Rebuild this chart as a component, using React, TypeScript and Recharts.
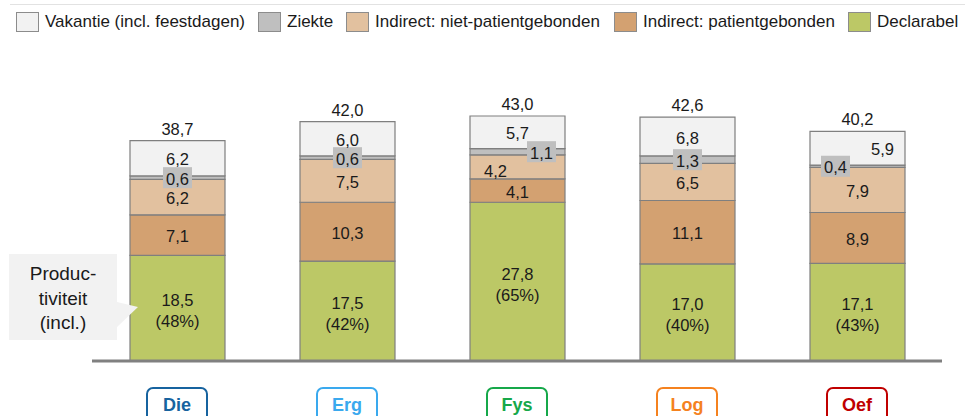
import React from 'react';
import { BarChart, Bar, XAxis, YAxis, LabelList } from 'recharts';

const categories = ['Die', 'Erg', 'Fys', 'Log', 'Oef'];
const declarabel = [18.5, 17.5, 27.8, 17.0, 17.1];
const declarabelPct = [48, 42, 65, 40, 43];
const indirectPatient = [7.1, 10.3, 4.1, 11.1, 8.9];
const indirectNiet = [6.2, 7.5, 4.2, 6.5, 7.9];
const ziekte = [0.6, 0.6, 1.1, 1.3, 0.4];
const vakantie = [6.2, 6.0, 5.7, 6.8, 5.9];
const totals = [38.7, 42.0, 43.0, 42.6, 40.2];

const categoryColors = ['#17639f', '#3aa9ee', '#16a84a', '#f5821f', '#c00000'];

const series = [
  { key: 'vakantie', name: 'Vakantie (incl. feestdagen)', color: '#f2f2f2' },
  { key: 'ziekte', name: 'Ziekte', color: '#bfbfbf' },
  { key: 'indirectNiet', name: 'Indirect: niet-patientgebonden', color: '#e2c19f' },
  { key: 'indirectPatient', name: 'Indirect: patientgebonden', color: '#d3a171' },
  { key: 'declarabel', name: 'Declarabel', color: '#bcc866' },
];

// legend item x positions, matched to the original slide
const legendX = [16, 258, 346, 614, 848];

// a few labels are nudged sideways in the original so they don't collide
const ziekteDx: Record<string, number> = { Fys: 24, Oef: -22 };
const vakantieDx: Record<string, number> = { Oef: 25 };
const indirectNietDx: Record<string, number> = { Fys: -22 };
const indirectNietDy: Record<string, number> = { Fys: 3 };

const rows = categories.map((name, i) => ({
  name,
  declarabel: declarabel[i],
  indirectPatient: indirectPatient[i],
  indirectNiet: indirectNiet[i],
  ziekte: ziekte[i],
  vakantie: vakantie[i],
}));

const FONT = "'Liberation Sans', Arial, sans-serif";
const fmt = (v: number) => v.toFixed(1).replace('.', ',');

const geom = (p: any) => {
  const vb = p.viewBox || {};
  const x = p.x ?? vb.x;
  let y = p.y ?? vb.y;
  const w = p.width ?? vb.width;
  let h = p.height ?? vb.height;
  if (h < 0) { y = y + h; h = -h; }
  return { x, y, w, h };
};

const segmentLabel = (values: number[], dx: Record<string, number> = {}, dy: Record<string, number> = {}) => (p: any) => {
  const { x, y, w, h } = geom(p);
  const name = p.value;
  const i = categories.indexOf(name);
  return (
    <text x={x + w / 2 + (dx[name] || 0)} y={y + h / 2 + (dy[name] || 0) + 1} textAnchor="middle"
      dominantBaseline="central" fontSize={16.5} fill="#1a1a1a" fontFamily={FONT}>
      {fmt(values[i])}
    </text>
  );
};

const ziekteLabel = (p: any) => {
  const { x, y, w, h } = geom(p);
  const name = p.value;
  const i = categories.indexOf(name);
  const cx = x + w / 2 + (ziekteDx[name] || 0);
  const cy = y + h / 2;
  return (
    <g>
      <rect x={cx - 14.5} y={cy - 10.5} width={29} height={21} fill="#bfbfbf" />
      <text x={cx} y={cy + 1} textAnchor="middle" dominantBaseline="central" fontSize={16.5} fill="#1a1a1a" fontFamily={FONT}>
        {fmt(ziekte[i])}
      </text>
    </g>
  );
};

const vakantieLabel = (p: any) => {
  const { x, y, w, h } = geom(p);
  const name = p.value;
  const i = categories.indexOf(name);
  return (
    <g fontFamily={FONT} fontSize={16.5} fill="#1a1a1a">
      <text x={x + w / 2 + (vakantieDx[name] || 0)} y={y + h / 2 + 1} textAnchor="middle" dominantBaseline="central">
        {fmt(vakantie[i])}
      </text>
      <text x={x + w / 2} y={y - 12} textAnchor="middle" dominantBaseline="central">
        {fmt(totals[i])}
      </text>
    </g>
  );
};

const declarabelLabel = (p: any) => {
  const { x, y, w, h } = geom(p);
  const name = p.value;
  const i = categories.indexOf(name);
  const cx = x + w / 2;
  const cy = y + h / 2;
  return (
    <g fontFamily={FONT} fontSize={16.5} fill="#1a1a1a">
      <text x={cx} y={cy - 8} textAnchor="middle" dominantBaseline="central">{fmt(declarabel[i])}</text>
      <text x={cx} y={cy + 13} textAnchor="middle" dominantBaseline="central">({declarabelPct[i]}%)</text>
    </g>
  );
};

const CategoryTick = (props: any) => {
  const { x, y, payload } = props;
  const i = categories.indexOf(payload.value);
  const color = categoryColors[i];
  return (
    <g>
      <rect x={x - 30} y={y + 27} width={60} height={36} rx={6} fill="#fff" stroke={color} strokeWidth={2} />
      <text x={x} y={y + 44} textAnchor="middle" dominantBaseline="central" fill={color}
        fontWeight="bold" fontSize={18} fontFamily={FONT}>
        {payload.value}
      </text>
    </g>
  );
};

const Legend = () => (
  <div style={{ position: 'absolute', left: 0, top: 0, width: 965, height: 40 }}>
    {series.map((s, i) => (
      <div key={s.key} style={{ position: 'absolute', left: legendX[i], top: 12, display: 'flex', alignItems: 'center',
        fontFamily: FONT, fontSize: 17, color: '#1a1a1a', whiteSpace: 'nowrap' }}>
        <span style={{ display: 'inline-block', width: 23, height: 20, background: s.color,
          border: '1px solid #8c8c8c', boxSizing: 'border-box', marginRight: 6 }} />
        <span>{s.name}</span>
      </div>
    ))}
  </div>
);

const Callout = () => (
  <svg width={965} height={416} style={{ position: 'absolute', left: 0, top: 0, pointerEvents: 'none' }}>
    <path d="M9,254 H117 V302 L138,307 L117,327 V340 H9 Z" fill="#f2f2f2" />
    <g fontFamily={FONT} fontSize={19} fill="#1a1a1a" textAnchor="middle">
      <text x={63} y={273} dominantBaseline="central">Produc-</text>
      <text x={63} y={298} dominantBaseline="central">tiviteit</text>
      <text x={63} y={322} dominantBaseline="central">(incl.)</text>
    </g>
  </svg>
);

export default function App() {
  return (
    <div style={{ position: 'relative', width: 965, height: 416, background: '#fff', overflow: 'hidden' }}>
      <style>{'body{margin:0}'}</style>
      <div style={{ position: 'absolute', left: 10, right: 0, top: 4, borderTop: '1px solid #e2e2e2' }} />
      <Legend />
      <BarChart width={965} height={416} data={rows} margin={{ top: 104, right: 23, left: 92, bottom: 25 }}
        barSize={95}>
        <YAxis hide domain={[0, 45]} />
        <XAxis dataKey="name" height={30} axisLine={{ stroke: '#808080', strokeWidth: 3 }} tickLine={false}
          tickSize={0} tickMargin={0} tick={<CategoryTick />} interval={0} />
        <Bar dataKey="declarabel" stackId="a" fill="#bcc866" stroke="#7f7f7f" strokeWidth={1.2} isAnimationActive={false}>
          <LabelList dataKey="name" content={declarabelLabel} />
        </Bar>
        <Bar dataKey="indirectPatient" stackId="a" fill="#d3a171" stroke="#7f7f7f" strokeWidth={1.2} isAnimationActive={false}>
          <LabelList dataKey="name" content={segmentLabel(indirectPatient)} />
        </Bar>
        <Bar dataKey="indirectNiet" stackId="a" fill="#e2c19f" stroke="#7f7f7f" strokeWidth={1.2} isAnimationActive={false}>
          <LabelList dataKey="name" content={segmentLabel(indirectNiet, indirectNietDx, indirectNietDy)} />
        </Bar>
        <Bar dataKey="ziekte" stackId="a" fill="#bfbfbf" stroke="#7f7f7f" strokeWidth={1.2} isAnimationActive={false}>
          <LabelList dataKey="name" content={ziekteLabel} />
        </Bar>
        <Bar dataKey="vakantie" stackId="a" fill="#f2f2f2" stroke="#7f7f7f" strokeWidth={1.2} isAnimationActive={false}>
          <LabelList dataKey="name" content={vakantieLabel} />
        </Bar>
      </BarChart>
      <Callout />
    </div>
  );
}
